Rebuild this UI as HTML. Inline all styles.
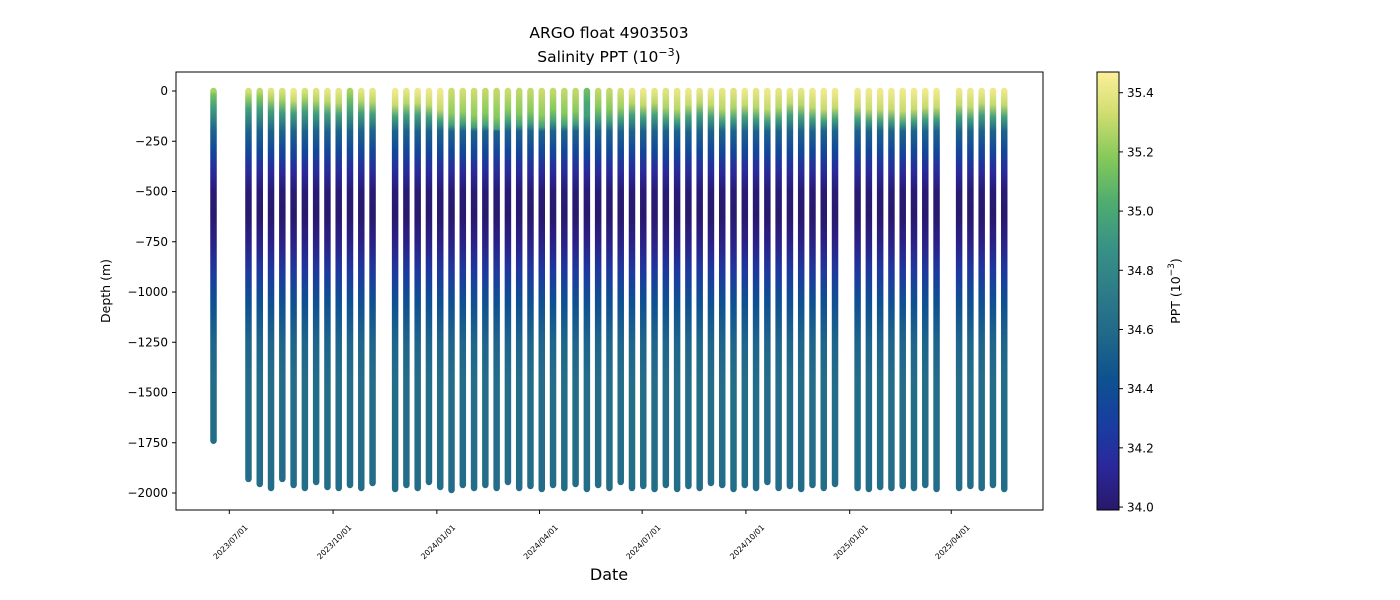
<!DOCTYPE html>
<html><head><meta charset="utf-8">
<style>
body{margin:0;background:#fff;}
svg{display:block;font-family:"DejaVu Sans","Liberation Sans",sans-serif;}
</style></head>
<body>
<svg id="chart" width="1400" height="600" viewBox="0 0 1400 600">
<defs id="defs">
<linearGradient id="cbgrad" x1="0" y1="1" x2="0" y2="0"></linearGradient>
</defs>
<text x="609" y="38" text-anchor="middle" font-size="15.5">ARGO float 4903503</text>
<text x="609" y="62" text-anchor="middle" font-size="15.5">Salinity PPT (10<tspan dy="-6" font-size="11">−3</tspan><tspan dy="6">)</tspan></text>
<g id="plot"></g>
<rect x="176" y="72" width="867" height="438" fill="none" stroke="#000" stroke-width="1"/>
<g id="yaxis"></g>
<g id="xaxis"></g>
<text x="0" y="0" transform="translate(110,291) rotate(-90)" text-anchor="middle" font-size="12.5">Depth (m)</text>
<text x="609" y="580" text-anchor="middle" font-size="16">Date</text>
<rect x="1097" y="72" width="22" height="438" fill="url(#cbgrad)" stroke="#000" stroke-width="1"/>
<g id="cbaxis"></g>
<text x="0" y="0" transform="translate(1180,291) rotate(-90)" text-anchor="middle" font-size="12.5">PPT (10<tspan dy="-6" font-size="9">−3</tspan><tspan dy="6">)</tspan></text>
</svg>
<script>
// ---- data ----
// profile dates as day offsets from 2023-07-01
const profileDays = [-14,17,27,37,47,57,67,77,87,97,107,117,127,
147,157,167,177,187,197,207,217,227,237,247,257,267,277,287,297,307,317,327,337,347,357,367,377,387,397,407,417,427,437,447,457,467,477,487,497,507,517,527,537,
557,567,577,587,597,607,617,627,
647,657,667,677,687];
const bottomDepth = [1740,1930,1955,1975,1930,1960,1975,1945,1970,1975,1960,1975,1950,
1980,1960,1975,1945,1970,1985,1960,1975,1960,1975,1945,1975,1965,1980,1960,1975,1955,1980,1960,1975,1945,1975,1965,1980,1960,1980,1965,1975,1950,1960,1980,1960,1975,1945,1975,1965,1980,1960,1975,1955,
1975,1980,1970,1975,1965,1975,1960,1980,
1975,1965,1975,1960,1980];
const surfaceSal = [35.25,35.35,35.3,35.38,35.36,35.42,35.36,35.38,35.4,35.4,35.25,35.4,35.4,
35.43,35.4,35.42,35.42,35.43,35.32,35.34,35.32,35.3,35.3,35.32,35.3,35.3,35.32,35.3,35.3,35.3,35.12,35.3,35.3,35.35,35.4,35.42,35.4,35.38,35.4,35.42,35.4,35.42,35.4,35.38,35.42,35.4,35.42,35.4,35.42,35.4,35.42,35.43,35.43,
35.43,35.43,35.43,35.43,35.43,35.43,35.43,35.43,
35.42,35.42,35.42,35.42,35.42];
const mixedDepth = [20,30,30,40,45,50,40,50,55,60,40,50,55,
70,60,60,70,90,110,100,120,110,130,90,110,100,120,90,110,100,60,80,90,80,60,70,60,80,90,70,60,70,90,80,70,80,90,80,60,70,80,90,80,
80,90,90,90,100,90,80,80,
70,80,60,70,70];
// generic sub-surface salinity structure
const structDepth = [200,300,400,500,620,760,900,1050,1250,1450,2000];
const structSal =   [34.55,34.35,34.15,34.02,34.0,34.08,34.25,34.42,34.56,34.62,34.64];
const yTicks = [0,-250,-500,-750,-1000,-1250,-1500,-1750,-2000];
const xTickDays = [0,92,184,275,366,458,550,640];
const xTickLabels = ["2023/07/01","2023/10/01","2024/01/01","2024/04/01","2024/07/01","2024/10/01","2025/01/01","2025/04/01"];
const cbTicks = [34.0,34.2,34.4,34.6,34.8,35.0,35.2,35.4];

// ---- scales ----
const NS="http://www.w3.org/2000/svg";
const xS = d => 229.3 + d*1.128;
const yS = v => 91 + (-v)*0.201;
const vmin=33.99, vmax=35.47;
const cmap=[[0,[41,24,107]],[0.1,[43,40,155]],[0.2,[24,62,160]],[0.3,[13,82,143]],[0.4,[33,104,138]],[0.5,[45,124,136]],[0.6,[56,146,134]],[0.7,[78,172,112]],[0.8,[130,200,90]],[0.9,[205,220,110]],[1,[253,239,154]]];
function col(s){let t=Math.max(0,Math.min(1,(s-vmin)/(vmax-vmin)));
 for(let i=1;i<cmap.length;i++){if(t<=cmap[i][0]){const a=cmap[i-1],b=cmap[i];const f=(t-a[0])/(b[0]-a[0]);
 return 'rgb('+a[1].map((c,k)=>Math.round(c+(b[1][k]-c)*f)).join(',')+')';}}return 'rgb(253,239,154)';}
const svg=document.getElementById('chart'), defs=document.getElementById('defs');
function mk(t,attrs,parent){const e=document.createElementNS(NS,t);for(const k in attrs)e.setAttribute(k,attrs[k]);parent.appendChild(e);return e;}

// colorbar gradient
const cbg=document.getElementById('cbgrad');
for(let i=0;i<=20;i++){const s=vmin+(vmax-vmin)*i/20;mk('stop',{offset:(i/20),'stop-color':col(s)},cbg);}

// profiles
const plot=document.getElementById('plot');
profileDays.forEach((d,i)=>{
 const x=xS(d), bot=bottomDepth[i];
 const g=mk('linearGradient',{id:'pg'+i,gradientUnits:'userSpaceOnUse',x1:0,x2:0,y1:yS(0),y2:yS(-bot)},defs);
 const dep=[0,mixedDepth[i],mixedDepth[i]+60].concat(structDepth);
 const sal=[surfaceSal[i],surfaceSal[i]-0.12,34.95].concat(structSal);
 dep.forEach((dd,k)=>{ if(dd<=bot) mk('stop',{offset:dd/bot,'stop-color':col(sal[k])},g);});
 const ln=mk('line',{x1:x,x2:x,y1:yS(0),y2:yS(-bot),stroke:'url(#pg'+i+')','stroke-width':6.5,'stroke-linecap':'round'},plot);
 
 
});

// y axis
const ya=document.getElementById('yaxis');
yTicks.forEach(v=>{const y=yS(v);
 mk('line',{x1:172,x2:176,y1:y,y2:y,stroke:'#000'},ya);
 const t=mk('text',{x:168,y:y+4,'text-anchor':'end','font-size':12},ya);t.textContent=v<0?'−'+(-v):String(v);
 
 
});
// x axis
const xa=document.getElementById('xaxis');
xTickDays.forEach((d,i)=>{const x=xS(d);
 mk('line',{x1:x,x2:x,y1:510,y2:514,stroke:'#000'},xa);
 const t=mk('text',{x:0,y:0,transform:'translate('+(x+19)+',528) rotate(-45)','text-anchor':'end','font-size':7.8},xa);t.textContent=xTickLabels[i];
 
 
});
// colorbar axis
const ca=document.getElementById('cbaxis');
cbTicks.forEach(v=>{const y=510-(v-vmin)/(vmax-vmin)*438;
 mk('line',{x1:1119,x2:1123,y1:y,y2:y,stroke:'#000'},ca);
 const t=mk('text',{x:1127,y:y+4.5,'font-size':12},ca);t.textContent=v.toFixed(1);
 
 
});
</script>
</body></html>
